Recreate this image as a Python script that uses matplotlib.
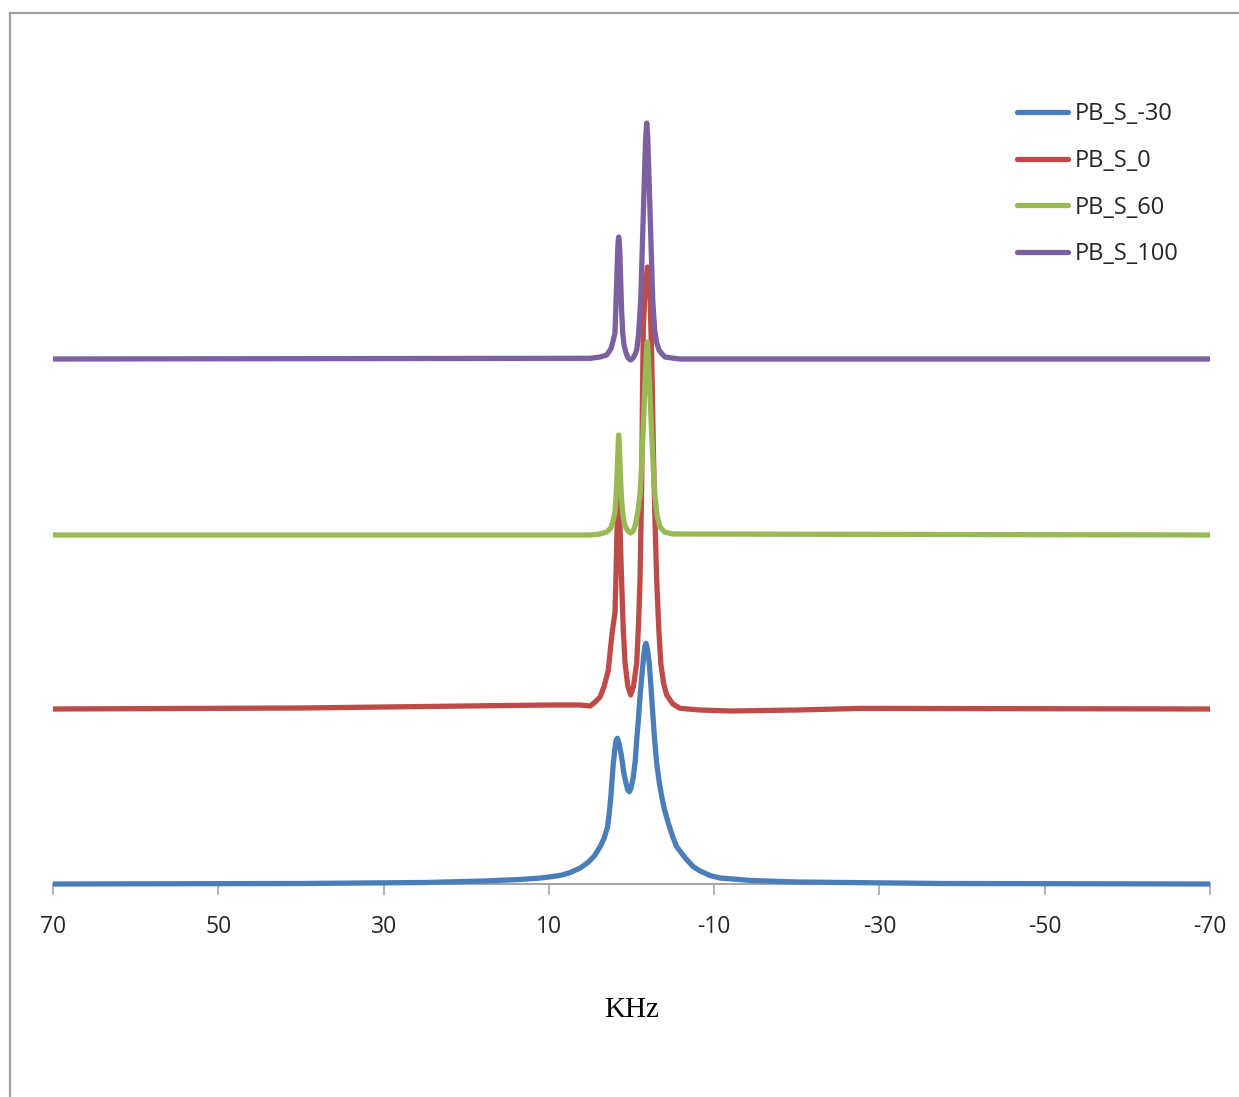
import matplotlib
matplotlib.use("Agg")
import matplotlib.pyplot as plt
from matplotlib.lines import Line2D

# ---- data (x in kHz, y in arbitrary stacked intensity units) ----
series_names = ["PB_S_-30", "PB_S_0", "PB_S_60", "PB_S_100"]
series_colors = ["#4A7EBB", "#BE4B48", "#98B954", "#7D60A0"]

x_m30 = [70, 40, 25, 17.8, 13.5, 11, 9.5, 8.4, 7.4, 6.2, 5.2, 4.5, 3.8, 3.3, 2.9,
         2.7, 2.5, 2.35, 2.2, 2.0, 1.85, 1.7, 1.55, 1.4, 1.2, 0.95, 0.66, 0.45,
         0.26, 0.05, -0.22, -0.45, -0.63, -0.85, -1.03, -1.25, -1.43, -1.6,
         -1.76, -1.95, -2.15, -2.35, -2.57, -2.8, -3.05, -3.35, -3.66, -4.0,
         -4.46, -5.0, -5.47, -6.5, -7.48, -8.3, -9.5, -10.7, -14.5, -20, -37.7,
         -70]
y_m30 = [0.0, 0.005, 0.015, 0.03, 0.045, 0.06, 0.075, 0.09, 0.115, 0.16, 0.22,
         0.28, 0.373, 0.46, 0.57, 0.7, 0.873, 1.04, 1.207, 1.36, 1.44, 1.457,
         1.42, 1.36, 1.273, 1.12, 1.007, 0.94, 0.923, 0.96, 1.073, 1.23, 1.44,
         1.66, 1.873, 2.08, 2.24, 2.37, 2.407, 2.34, 2.207, 1.98, 1.707, 1.44,
         1.207, 1.02, 0.873, 0.74, 0.607, 0.47, 0.373, 0.26, 0.173, 0.13, 0.085,
         0.06, 0.035, 0.02, 0.005, 0.0]

x_0 = [70, 40, 20, 10, 6.2, 5.0, 4.4, 3.8, 3.3, 2.8, 2.4, 2.2, 2.0, 1.9, 1.8,
       1.68, 1.55, 1.4, 1.2, 1.0, 0.78, 0.45, 0.1, -0.25, -0.63, -0.85, -1.03,
       -1.13, -1.24, -1.33, -1.43, -1.67, -1.93, -2.24, -2.45, -2.55, -2.64,
       -2.85, -3.05, -3.3, -3.55, -3.9, -4.26, -5.0, -5.87, -8.3, -12, -20,
       -27.7, -70]
y_0 = [1.75, 1.76, 1.78, 1.79, 1.79, 1.78, 1.82, 1.87, 1.98, 2.14, 2.47, 2.6,
       2.71, 3.0, 3.37, 3.75, 3.97, 3.6, 3.04, 2.55, 2.21, 1.98, 1.89, 1.98,
       2.21, 2.6, 3.04, 3.5, 4.04, 4.9, 5.57, 5.97, 6.17, 5.91, 5.24, 4.8, 4.37,
       3.6, 3.04, 2.55, 2.2, 2.0, 1.89, 1.8, 1.757, 1.74, 1.73, 1.74, 1.756,
       1.75]

x_60 = [70, 5.0, 3.8, 3.0, 2.5, 2.2, 2.0, 1.87, 1.77, 1.67, 1.6, 1.55, 1.5,
        1.43, 1.37, 1.3, 1.2, 1.05, 0.85, 0.58, 0.3, 0.1, -0.2, -0.5, -0.8,
        -1.03, -1.2, -1.4, -1.64, -1.81, -1.91, -2.01, -2.18, -2.41, -2.66,
        -2.85, -3.1, -3.45, -4.0, -5.0, -70]
y_60 = [3.49, 3.49, 3.50, 3.52, 3.56, 3.64, 3.72, 3.87, 4.05, 4.25, 4.42, 4.49,
        4.42, 4.28, 4.15, 4.0, 3.85, 3.7, 3.6, 3.55, 3.52, 3.51, 3.53, 3.6,
        3.74, 3.9, 4.15, 4.52, 5.01, 5.33, 5.42, 5.33, 5.01, 4.55, 4.12, 3.87,
        3.68, 3.57, 3.52, 3.50, 3.49]

x_100 = [70, 5.0, 3.8, 3.0, 2.5, 2.2, 2.0, 1.9, 1.8, 1.67, 1.6, 1.55, 1.48, 1.4,
         1.3, 1.2, 1.06, 0.9, 0.66, 0.42, 0.1, -0.2, -0.45, -0.63, -0.85, -1.12,
         -1.36, -1.6, -1.72, -1.84, -1.96, -2.08, -2.32, -2.57, -2.8, -3.05,
         -3.33, -3.7, -4.06, -4.9, -5.87, -70]
y_100 = [5.25, 5.257, 5.27, 5.29, 5.35, 5.44, 5.51, 5.74, 6.01, 6.34, 6.44, 6.47,
         6.43, 6.29, 6.01, 5.74, 5.51, 5.39, 5.31, 5.26, 5.24, 5.26, 5.30, 5.34,
         5.49, 5.84, 6.51, 7.17, 7.47, 7.61, 7.47, 7.17, 6.51, 5.84, 5.54, 5.41,
         5.34, 5.30, 5.27, 5.26, 5.25, 5.25]

xs = [x_m30, x_0, x_60, x_100]
ys = [y_m30, y_0, y_60, y_100]

x_ticks = [70, 50, 30, 10, -10, -30, -50, -70]
x_label = "KHz"

# ---- figure ----
W, H = 1239, 1097
fig = plt.figure(figsize=(W / 100, H / 100), dpi=100)
fig.patch.set_facecolor("white")

left, right = 53 / W, 1210 / W
bottom = 1 - 884 / H
top = 1 - 40 / H
ax = fig.add_axes([left, bottom, right - left, top - bottom])

for x, y, c, n in zip(xs, ys, series_colors, series_names):
    ax.plot(x, y, color=c, lw=3.8, label=n, zorder=3, clip_on=False,
            solid_joinstyle="round", solid_capstyle="butt")

ax.set_xlim(70, -70)
ax.set_ylim(0, (884 - 40) / 100)
ax.set_xticks(x_ticks)
ax.set_xticklabels([str(t) for t in x_ticks], fontfamily="Open Sans",
                   fontsize=16.5, color="#262626")
ax.tick_params(axis="x", direction="out", length=8, width=1.2,
               color="#A6A6A6", pad=14)
ax.set_yticks([])
for s in ["left", "right", "top"]:
    ax.spines[s].set_visible(False)
ax.spines["bottom"].set_color("#A6A6A6")
ax.spines["bottom"].set_linewidth(1.5)
ax.spines["bottom"].set_zorder(1)
ax.patch.set_alpha(0)

fig.text(632 / W, 1 - 1010 / H, x_label, ha="center", va="center",
         fontfamily="Liberation Serif", fontsize=21, color="black")

leg = ax.legend(loc="upper left", bbox_to_anchor=(1017 / W, 1 - 102 / H),
                bbox_transform=fig.transFigure, frameon=False,
                prop={"family": "Open Sans", "size": 17},
                handlelength=2.16, handletextpad=0.3, labelspacing=0.965,
                borderpad=0, borderaxespad=0)
for t in leg.get_texts():
    t.set_color("#262626")
for h in leg.get_lines():
    h.set_linewidth(3.8)
    h.set_solid_capstyle("round")

# outer chart border (top and left edges visible)
fig.add_artist(Line2D([9.5 / W, 1.2], [1 - 12.5 / H, 1 - 12.5 / H],
                      transform=fig.transFigure, color="#A0A0A0", lw=1.6))
fig.add_artist(Line2D([9.5 / W, 9.5 / W], [1 - 12.5 / H, -0.2],
                      transform=fig.transFigure, color="#A0A0A0", lw=1.6))

fig.savefig("out.png", dpi=100, facecolor="white")
